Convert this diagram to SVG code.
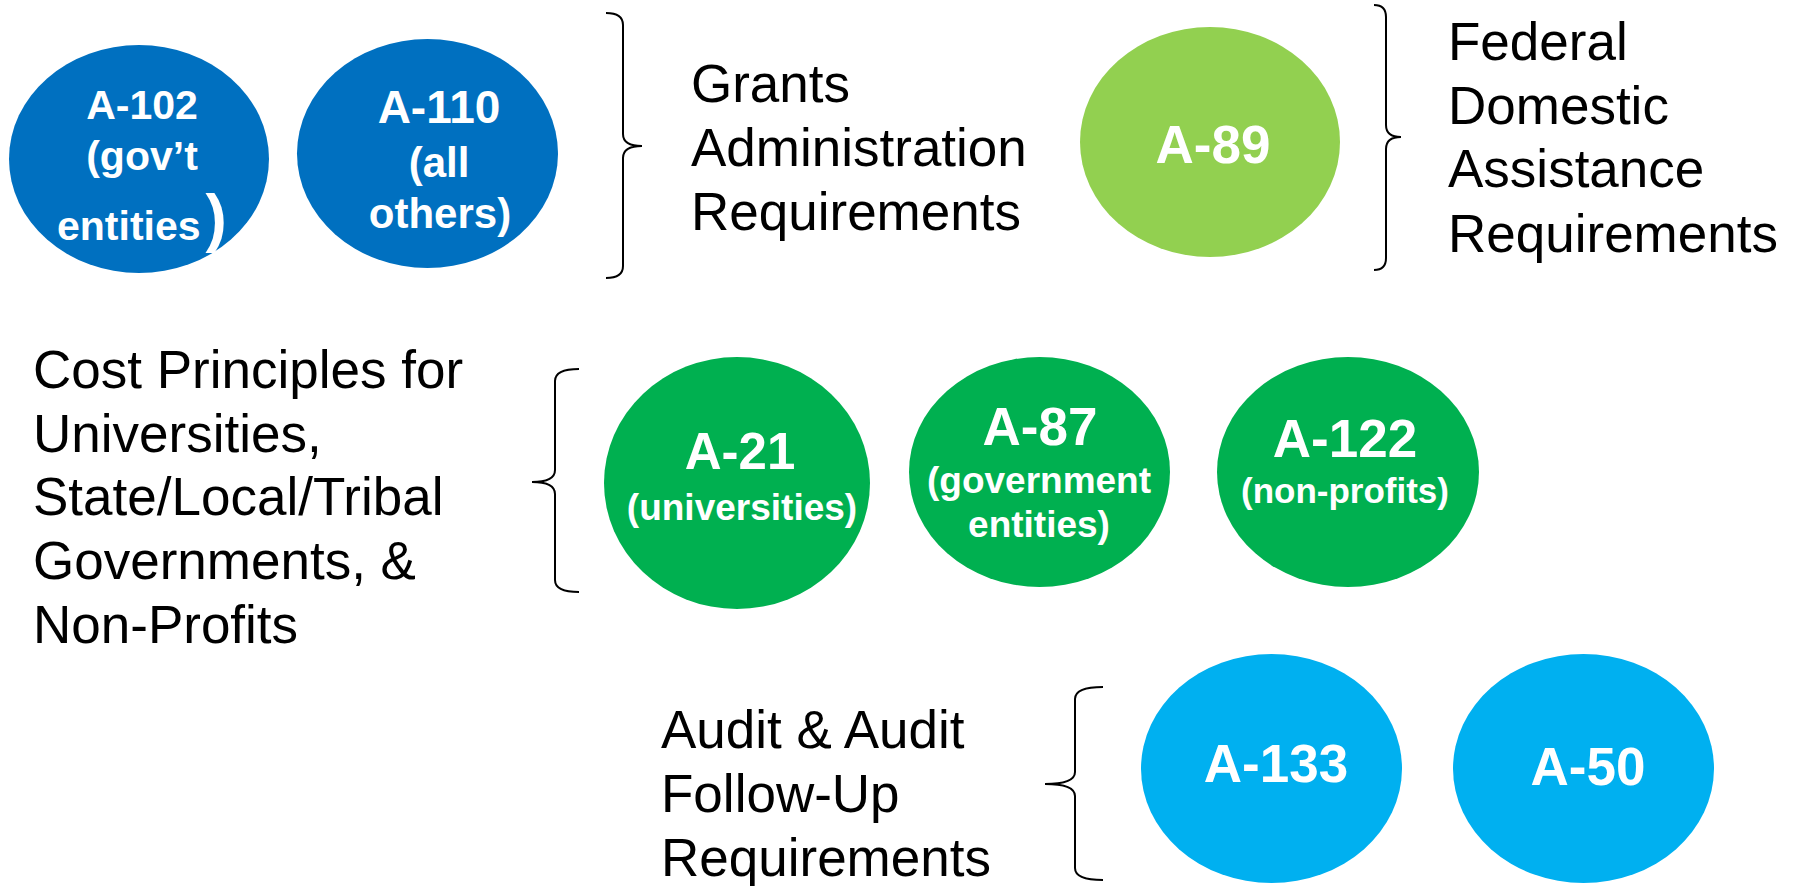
<svg xmlns="http://www.w3.org/2000/svg" width="1796" height="886" viewBox="0 0 1796 886">
<style>
.lbl{font-family:"Liberation Sans",Arial,sans-serif;font-size:53px;fill:#000}
.nt{font-family:"Liberation Sans",Arial,sans-serif;font-weight:bold;fill:#fff;text-anchor:middle}
.br{fill:none;stroke:#000;stroke-width:2}
.dblue{fill:#0070C0}.lgreen{fill:#92D050}.green{fill:#00B050}.cyan{fill:#00B0F0}
</style>
<rect width="1796" height="886" fill="#fff"/>
<g id="connectors">
<path class="br" d="M606,13 Q623,13 623,25 L623,134 Q623,146 642,146 Q623,146 623,158 L623,266 Q623,278 606,278"/>
<path class="br" d="M1374,5 Q1386,5 1386,17 L1386,125 Q1386,137 1401,137 Q1386,137 1386,149 L1386,258 Q1386,270 1374,270"/>
<path class="br" d="M579,369 Q555,369 555,381 L555,470 Q555,482 532,482 Q555,482 555,494 L555,580 Q555,592 579,592"/>
<path class="br" d="M1103,687 Q1075,687 1075,699 L1075,772 Q1075,784 1045,784 Q1075,784 1075,796 L1075,868 Q1075,880 1103,880"/>
</g>
<g id="label-grants"><text class="lbl" x="691" y="102">Grants</text><text class="lbl" x="691" y="166">Administration</text><text class="lbl" x="691" y="230">Requirements</text></g>
<g id="label-federal"><text class="lbl" x="1448" y="60">Federal</text><text class="lbl" x="1448" y="124">Domestic</text><text class="lbl" x="1448" y="187">Assistance</text><text class="lbl" x="1448" y="252">Requirements</text></g>
<g id="label-cost"><text class="lbl" x="33" y="388">Cost Principles for</text><text class="lbl" x="33" y="452">Universities,</text><text class="lbl" x="33" y="515">State/Local/Tribal</text><text class="lbl" x="33" y="579">Governments, &amp;</text><text class="lbl" x="33" y="643">Non-Profits</text></g>
<g id="label-audit"><text class="lbl" x="661" y="748">Audit &amp; Audit</text><text class="lbl" x="661" y="812">Follow-Up</text><text class="lbl" x="661" y="876">Requirements</text></g>
<g id="a102"><ellipse class="dblue" cx="139" cy="159" rx="130" ry="114"/>
<text class="nt" x="142" y="119" font-size="41">A-102</text>
<text class="nt" x="142" y="170" font-size="41">(gov’t</text>
<text class="nt" x="57" y="240" font-size="41" style="text-anchor:start">entities<tspan dx="5" font-size="64">)</tspan></text></g>
<g id="a110"><ellipse class="dblue" cx="427.5" cy="153.5" rx="130.5" ry="114.5"/>
<text class="nt" x="439" y="123" font-size="46">A-110</text>
<text class="nt" x="439" y="177" font-size="42">(all</text>
<text class="nt" x="440" y="228" font-size="42">others)</text></g>
<g id="a89"><ellipse class="lgreen" cx="1210" cy="142" rx="130" ry="115"/>
<text class="nt" x="1213" y="163" font-size="53">A-89</text></g>
<g id="a21"><ellipse class="green" cx="737" cy="483" rx="133" ry="126"/>
<text class="nt" x="740" y="469" font-size="51">A-21</text>
<text class="nt" x="742" y="520" font-size="37">(universities)</text></g>
<g id="a87"><ellipse class="green" cx="1039.5" cy="472" rx="130.5" ry="115"/>
<text class="nt" x="1040" y="445" font-size="53">A-87</text>
<text class="nt" x="1039" y="493" font-size="37">(government</text>
<text class="nt" x="1039" y="537" font-size="37">entities)</text></g>
<g id="a122"><ellipse class="green" cx="1348" cy="472" rx="131" ry="115"/>
<text class="nt" x="1345" y="457" font-size="53">A-122</text>
<text class="nt" x="1345" y="503" font-size="35">(non-profits)</text></g>
<g id="a133"><ellipse class="cyan" cx="1271.5" cy="768.5" rx="130.5" ry="114.5"/>
<text class="nt" x="1276" y="782" font-size="53">A-133</text></g>
<g id="a50"><ellipse class="cyan" cx="1583.5" cy="768.5" rx="130.5" ry="114.5"/>
<text class="nt" x="1588" y="785" font-size="53">A-50</text></g>
</svg>
